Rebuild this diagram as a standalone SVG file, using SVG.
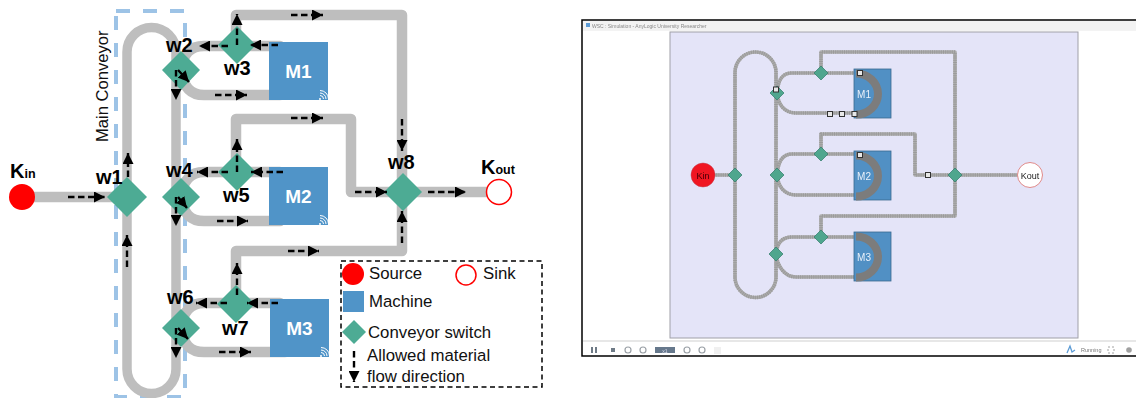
<svg xmlns="http://www.w3.org/2000/svg" xmlns:xlink="http://www.w3.org/1999/xlink" width="1136" height="398" viewBox="0 0 1136 398">
<style>
text{font-family:"Liberation Sans",Arial,sans-serif}
.belt{fill:none;stroke:#BEBEBE;stroke-width:10.5;stroke-linejoin:round;stroke-linecap:round}
.loop{stroke-width:9.5}
.flow{fill:none;stroke:#000;stroke-width:2.4;stroke-dasharray:6.500 3.500;marker-end:url(#head)}
.sw{fill:#4DAB94}
.mc{fill:#5094C8}
.wl{font-size:20px;font-weight:bold;fill:#000}
.ml{font-size:19px;font-weight:bold;fill:#fff;text-anchor:middle}
.lg{font-size:16.8px;fill:#111}
.wifi{fill:none;stroke:#fff;stroke-width:1}
.b2{fill:none;stroke:#ABABAB;stroke-width:3.6;stroke-linejoin:round}
.b3{fill:none;stroke:#9A9A9A;stroke-width:3.6;stroke-dasharray:1 1.2;stroke-linejoin:round}
.sw2{fill:#4FA68E;stroke:#2F7A68;stroke-width:.7}
.mc2{fill:#5190C4;stroke:#3A6A90;stroke-width:.8}
.arc2{fill:none;stroke:#7C7C7C;stroke-width:8}
.ml2{font-size:10px;fill:#E8F0FA;text-anchor:middle}
.tg{fill:#E8E8E8;stroke:#333;stroke-width:1}
.ic{fill:none;stroke:#9AA0A6;stroke-width:1.2}
</style>
<defs>
<marker id="head" markerUnits="userSpaceOnUse" markerWidth="11" markerHeight="11" viewBox="0 0 10 10" refX="10" refY="5" orient="auto"><path d="M0 0L10 5L0 10Z" fill="#000"/></marker>
<path id="rw" d="M735 175V72.500A20.500 20.500 0 0 1 776 72.500V277A20.500 20.500 0 0 1 735 277V175M777 93C778 80 782 73 792 73H855M777 93C778 104 784 113 796 113H856M821 73V52H955V175M777 175C778 162 782 154 792 154H855M777 175C778 186 784 195 796 195H856M821 154V134H915V175H955M776 254C777 243 782 237 792 237H855M776 254C777 265 784 277 796 277H856M821 237V216H955V175M955 175H1020M703 175H735"/>
<filter id="soft" x="-5%" y="-5%" width="110%" height="110%"><feGaussianBlur stdDeviation="0.45"/></filter>
<g id="wf"><circle cx="0" cy="0" r="1" fill="#fff"/><path class="wifi" d="M0-3.500A3.500 3.500 0 0 1 3.500 0M0-6A6 6 0 0 1 6 0M0-8.500A8.500 8.500 0 0 1 8.500 0"/></g>
</defs>

<rect id="main-conveyor-box" x="116" y="11" width="69" height="386" fill="none" stroke="#9DC3E6" stroke-width="4" stroke-dasharray="14 13"/>

<g id="connectors">
<path class="belt" d="M22 197H127"/>
<path class="belt loop" d="M127 197V52A24.500 24.500 0 0 1 176 52V369A24.500 24.500 0 0 1 127 369V197"/>
<path class="belt" d="M181 70C183 54 190 46 204 46H280"/>
<path class="belt" d="M181 70C183 86 190 95 204 95H280"/>
<path class="belt" d="M181 197C183 181 190 172 204 172H280"/>
<path class="belt" d="M181 197C183 213 190 221 204 221H280"/>
<path class="belt" d="M181 328C183 312 190 303 204 303H280"/>
<path class="belt" d="M181 328C183 344 190 352 204 352H285"/>
<path class="belt" d="M236 46V15H402V192"/>
<path class="belt" d="M236 172V119H351V192H403"/>
<path class="belt" d="M236 304V251H402V192"/>
<path class="belt" d="M403 192H499"/>
</g>

<g id="k-in"><circle cx="22" cy="197" r="13" fill="#FF0000"/><text x="10" y="178" font-size="20" font-weight="bold">K<tspan font-size="12.5">in</tspan></text></g>
<g id="k-out"><circle cx="499" cy="192" r="12.500" fill="#fff" stroke="#FF0000" stroke-width="1.5"/><text x="481" y="174" font-size="20" font-weight="bold">K<tspan font-size="12.5">out</tspan></text></g>
<g id="w1"><path class="sw" d="M127 177L147 197L127 217L107 197Z"/><text class="wl" x="96" y="184">w1</text></g>
<g id="w2"><path class="sw" d="M181 51L200 70L181 90L162 70Z"/><text class="wl" x="166" y="52">w2</text></g>
<g id="w3"><path class="sw" d="M237 26L256 45L237 64L218 45Z"/><text class="wl" x="224" y="75">w3</text></g>
<g id="w4"><path class="sw" d="M181 178L200 197L181 216L162 197Z"/><text class="wl" x="166" y="177">w4</text></g>
<g id="w5"><path class="sw" d="M237 153L256 172L237 191L218 172Z"/><text class="wl" x="223" y="202">w5</text></g>
<g id="w6"><path class="sw" d="M181 309L200 328L181 347L162 328Z"/><text class="wl" x="167" y="304">w6</text></g>
<g id="w7"><path class="sw" d="M236 285L255 304L236 323L217 304Z"/><text class="wl" x="222" y="335">w7</text></g>
<g id="w8"><path class="sw" d="M403 173L422 192L403 211L384 192Z"/><text class="wl" x="388" y="169">w8</text></g>
<g id="m1"><rect class="mc" x="269" y="42" width="59" height="58"/><text class="ml" x="298.500" y="78">M1</text><use xlink:href="#wf" href="#wf" x="320" y="99"/></g>
<g id="m2"><rect class="mc" x="269" y="167" width="59" height="58"/><text class="ml" x="298.500" y="203">M2</text><use xlink:href="#wf" href="#wf" x="320" y="224"/></g>
<g id="m3"><rect class="mc" x="270" y="299" width="59" height="58"/><text class="ml" x="299.500" y="335">M3</text><use xlink:href="#wf" href="#wf" x="321" y="356"/></g>

<g id="flow-arrows">
<path class="flow" d="M68 197H105"/><path class="flow" d="M128 177V153"/><path class="flow" d="M127 267V235"/>
<path class="flow" d="M228 46H199"/><path class="flow" d="M278 45H250"/><path class="flow" d="M237 45V14"/><path class="flow" d="M291 15H323"/><path class="flow" d="M215 95H247"/><path class="flow" d="M176 70V100"/><path class="flow" d="M178 70L189 82"/>
<path class="flow" d="M228 172H197"/><path class="flow" d="M283 172H251"/><path class="flow" d="M237 172V139"/><path class="flow" d="M291 118H323"/><path class="flow" d="M217 221H248"/><path class="flow" d="M176 197V226"/><path class="flow" d="M178 197L187 208"/>
<path class="flow" d="M227 303H196"/><path class="flow" d="M278 303H247"/><path class="flow" d="M237 295V263"/><path class="flow" d="M288 251H319"/><path class="flow" d="M219 352H251"/><path class="flow" d="M176 328V358"/><path class="flow" d="M178 328L188 339"/>
<path class="flow" d="M402 119V151"/><path class="flow" d="M355 192H387"/><path class="flow" d="M428 192H466"/><path class="flow" d="M402 243V211"/>
</g>

<text id="main-conveyor-label" transform="translate(108 142) rotate(-90)" font-size="16.600" fill="#111">Main Conveyor</text>

<g id="legend">
<rect x="341" y="261" width="201" height="126" fill="#fff" stroke="#000" stroke-width="1.500" stroke-dasharray="5 3.500"/>
<circle cx="353" cy="274" r="11" fill="#FF0000"/><text class="lg" x="369" y="279">Source</text>
<circle cx="466" cy="275" r="10" fill="#fff" stroke="#FF0000" stroke-width="1.500"/><text class="lg" x="483" y="279">Sink</text>
<rect class="mc" x="343" y="291" width="21" height="21"/><text class="lg" x="369" y="307">Machine</text>
<path class="sw" d="M354 320L366 332L354 344L342 332Z"/><text class="lg" x="368" y="338">Conveyor switch</text>
<path class="flow" d="M354 351V382"/>
<text class="lg" x="367" y="361">Allowed material</text><text class="lg" x="367" y="382">flow direction</text>
</g>

<g id="screenshot" filter="url(#soft)">
<rect x="583" y="21" width="553" height="10" fill="#F3F3F3"/>
<path d="M1136 20H582V356H1136" fill="none" stroke="#000" stroke-width="1.500"/>
<path d="M583 341H1136" stroke="#CFCFCF" stroke-width="1"/>
<rect x="670" y="32" width="408" height="306" fill="#E4E4F8" stroke="#A0A0A8" stroke-width="1"/>
<path d="M586 23h4v4h-4z" fill="#5B9BD5"/>
<text x="592" y="27.500" font-size="5" fill="#888">WSC : Simulation - AnyLogic University Researcher</text>
<g id="sim-connectors"><use xlink:href="#rw" href="#rw" class="b2"/><use xlink:href="#rw" href="#rw" class="b3"/></g>
<g id="sim-kin"><circle cx="703" cy="175" r="12" fill="#F01822" stroke="#C04050" stroke-width=".5"/><text x="703" y="178.500" font-size="9" text-anchor="middle" fill="#400">Kin</text></g>
<g id="sim-kout"><circle cx="1030" cy="175" r="12.500" fill="#fff" stroke="#E08A8A" stroke-width="1"/><text x="1030" y="178.500" font-size="9" text-anchor="middle" fill="#222">Kout</text></g>
<g id="sim-m1"><rect class="mc2" x="854" y="69" width="37" height="49"/><path class="arc2" d="M856 73.500A22 20.500 0 0 1 856 114.500"/><text class="ml2" x="864" y="98">M1</text></g>
<g id="sim-m2"><rect class="mc2" x="854" y="151" width="37" height="49"/><path class="arc2" d="M856 155.500A22 20.500 0 0 1 856 196.500"/><text class="ml2" x="864" y="180">M2</text></g>
<g id="sim-m3"><rect class="mc2" x="854" y="232" width="37" height="49"/><path class="arc2" d="M856 236.500A22 20.500 0 0 1 856 277.500"/><text class="ml2" x="864" y="261">M3</text></g>
<path id="sim-w1" class="sw2" d="M735 168L742 175L735 182L728 175Z"/>
<path id="sim-w2" class="sw2" d="M777 86L784 93L777 100L770 93Z"/>
<path id="sim-w3" class="sw2" d="M821 66L828 73L821 80L814 73Z"/>
<path id="sim-w4" class="sw2" d="M777 168L784 175L777 182L770 175Z"/>
<path id="sim-w5" class="sw2" d="M821 147L828 154L821 161L814 154Z"/>
<path id="sim-w6" class="sw2" d="M776 247L783 254L776 261L769 254Z"/>
<path id="sim-w7" class="sw2" d="M821 230L828 237L821 244L814 237Z"/>
<path id="sim-w8" class="sw2" d="M955 168L962 175L955 182L948 175Z"/>
<g id="sim-items">
<rect class="tg" x="773.500" y="87" width="5" height="5"/><rect class="tg" x="827.500" y="111.500" width="5" height="5"/><rect class="tg" x="839.500" y="111.500" width="5" height="5"/><rect class="tg" x="852" y="111.500" width="5" height="5"/><rect class="tg" x="857.500" y="70.500" width="5" height="5"/><rect class="tg" x="857.500" y="152.500" width="5" height="5"/><rect class="tg" x="925.500" y="172.500" width="5" height="5"/>
</g>
<g id="toolbar">
<path d="M592 347v6M596 347v6" stroke="#6E7A86" stroke-width="2"/>
<rect x="611" y="348" width="4" height="4" fill="#6E7A86"/>
<circle class="ic" cx="628" cy="350" r="3"/><circle class="ic" cx="643" cy="350" r="3"/>
<rect x="655" y="347" width="20" height="6" fill="#66788C"/><text x="665" y="352.500" font-size="5" text-anchor="middle" fill="#DDE">x1</text>
<circle class="ic" cx="687" cy="350" r="3"/><circle class="ic" cx="702" cy="350" r="3"/>
<rect x="714" y="347" width="7" height="7" fill="#F0F0F0"/>
<path d="M1067 353L1070 346L1072 352L1075 350" fill="none" stroke="#5B9BD5" stroke-width="1.300"/>
<text x="1081" y="352" font-size="5.500" fill="#777">Running</text>
<rect x="1108" y="347" width="6" height="6" fill="none" stroke="#8A8A8A" stroke-width=".8" stroke-dasharray="2 2"/>
<circle cx="1129" cy="350" r="2.800" fill="#A0A0A0"/>
</g>
</g>
</svg>
